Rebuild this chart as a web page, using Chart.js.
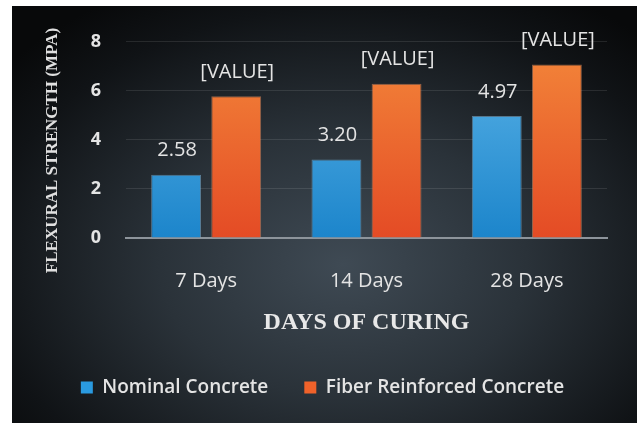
<!DOCTYPE html>
<html>
<head>
<meta charset="utf-8">
<script src="https://cdn.jsdelivr.net/npm/chart.js@4"></script>
<style>
  body { margin: 0; background: #fff; }
  #panel {
    position: absolute; left: 12px; top: 6px; width: 625px; height: 417px;
    background: radial-gradient(ellipse 70% 75% at 53% 62%, #3f4a54 0%, #2a3239 42%, #101316 82%, #08090a 100%);
  }
</style>
</head>
<body>
<div id="panel"><canvas id="chart"></canvas></div>
<script>
const categories = ['7 Days', '14 Days', '28 Days'];
const nominalValues = [2.58, 3.20, 4.97];
const fiberValues = [5.78, 6.29, 7.07];
const nominalLabels = ['2.58', '3.20', '4.97'];
const fiberLabels = ['[VALUE]', '[VALUE]', '[VALUE]'];

const textColor = '#e4e4e4';
const sansFont = "'Open Sans', sans-serif";
const serifFont = "'Liberation Serif', 'Times New Roman', serif";

function barGradient(ctx, bottom, top) {
    const area = ctx.chart.chartArea;
    if (!area) { return bottom; }
    const g = ctx.chart.ctx.createLinearGradient(0, area.bottom, 0, area.top);
    g.addColorStop(0, bottom);
    g.addColorStop(1, top);
    return g;
}

// draws the value labels above each bar
const valueLabels = {
    id: 'valueLabels',
    afterDatasetsDraw(chart) {
        const ctx = chart.ctx;
        const labelSets = [nominalLabels, fiberLabels];
        ctx.save();
        ctx.font = '20px ' + sansFont;
        ctx.fillStyle = textColor;
        ctx.textAlign = 'center';
        ctx.textBaseline = 'middle';
        chart.data.datasets.forEach((ds, i) => {
            chart.getDatasetMeta(i).data.forEach((bar, j) => {
                ctx.fillText(labelSets[i][j], bar.x + 1, bar.y - 24);
            });
        });
        ctx.restore();
    }
};

new Chart(document.getElementById('chart'), {
    type: 'bar',
    data: {
        labels: categories,
        datasets: [
            {
                label: 'Nominal Concrete',
                data: nominalValues,
                backgroundColor: ctx => barGradient(ctx, '#1c85cb', '#5cb4e8'),
                borderColor: 'rgba(140, 200, 240, 0.5)',
                borderWidth: 1,
                categoryPercentage: 0.75,
                barPercentage: 0.83
            },
            {
                label: 'Fiber Reinforced Concrete',
                data: fiberValues,
                backgroundColor: ctx => barGradient(ctx, '#e44b25', '#f3873a'),
                borderColor: 'rgba(250, 160, 110, 0.5)',
                borderWidth: 1,
                categoryPercentage: 0.75,
                barPercentage: 0.83
            }
        ]
    },
    options: {
        responsive: true,
        maintainAspectRatio: false,
        animation: false,
        layout: { padding: { top: 27, right: 30, left: 26, bottom: 16 } },
        plugins: {
            tooltip: { enabled: false },
            legend: {
                position: 'bottom',
                labels: {
                    color: textColor,
                    font: { family: sansFont, size: 19, weight: '600' },
                    boxWidth: 12,
                    boxHeight: 12,
                    padding: 36,
                    generateLabels: chart => chart.data.datasets.map((ds, i) => ({
                        text: ds.label,
                        fillStyle: i === 0 ? '#2a9ae0' : '#f0622a',
                        strokeStyle: 'transparent',
                        lineWidth: 0,
                        fontColor: textColor,
                        datasetIndex: i
                    }))
                }
            }
        },
        scales: {
            x: {
                grid: { display: false },
                border: { color: '#8d949b', width: 2 },
                ticks: { color: textColor, padding: 23, font: { family: sansFont, size: 20 } },
                title: {
                    display: true,
                    text: 'DAYS OF CURING',
                    color: '#e8e8e8',
                    font: { family: serifFont, size: 24, weight: 'bold' },
                    padding: { top: 0, bottom: 5 }
                },
                afterFit: scale => { scale.height = 104; }
            },
            y: {
                min: 0,
                max: 8,
                ticks: { stepSize: 2, color: textColor, padding: 25, font: { family: sansFont, size: 18, weight: 'bold' } },
                grid: { color: 'rgba(255, 255, 255, 0.1)', drawTicks: false },
                border: { display: false },
                title: {
                    display: true,
                    text: 'FLEXURAL STRENGTH (MPA)     ',
                    color: '#e0e0e0',
                    font: { family: serifFont, size: 17, weight: 'bold' },
                    padding: { top: 4, bottom: 0 }
                },
                afterFit: scale => { scale.width = 88; }
            }
        }
    },
    plugins: [valueLabels]
});
</script>
</body>
</html>
